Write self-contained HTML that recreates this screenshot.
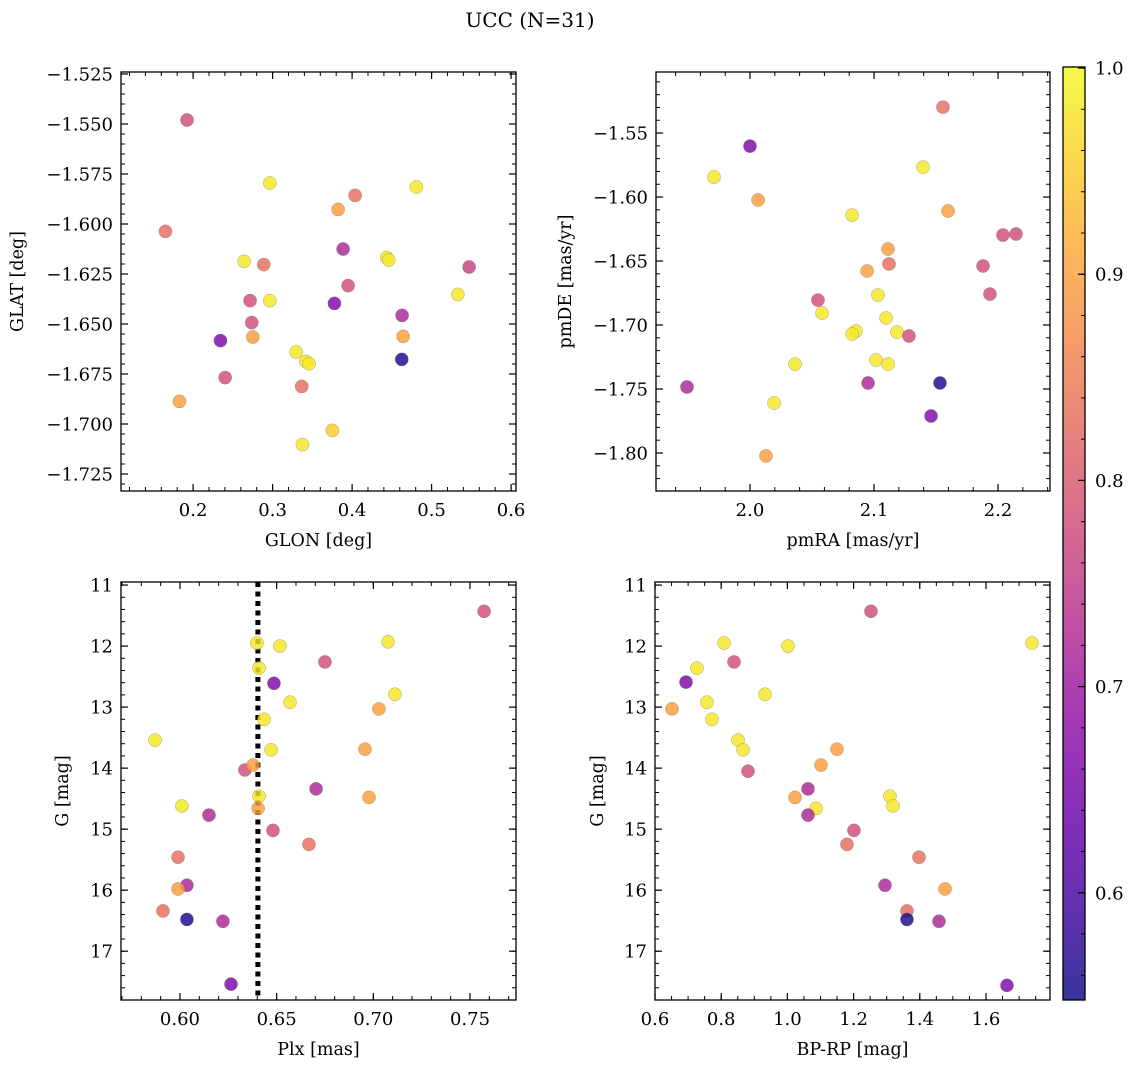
<!DOCTYPE html>
<html><head><meta charset="utf-8">
<style>
html,body{margin:0;padding:0;background:#fff;}
svg{display:block;font-family:"DejaVu Serif","Liberation Serif",serif;}
</style></head>
<body>
<svg id="fig" width="1136" height="1067" viewBox="0 0 1136 1067" xmlns="http://www.w3.org/2000/svg">
<defs>
<linearGradient id="plasma" x1="0" y1="1" x2="0" y2="0">
<stop offset="0" stop-color="#0d0887"/><stop offset="0.1" stop-color="#41049d"/><stop offset="0.2" stop-color="#6a00a8"/><stop offset="0.3" stop-color="#8f0da4"/><stop offset="0.4" stop-color="#b12a90"/><stop offset="0.5" stop-color="#cc4778"/><stop offset="0.6" stop-color="#e16462"/><stop offset="0.7" stop-color="#f2844b"/><stop offset="0.8" stop-color="#fca636"/><stop offset="0.9" stop-color="#fcce25"/><stop offset="1" stop-color="#f0f921"/>
</linearGradient>
</defs>
<text x="530" y="27" font-size="20" text-anchor="middle">UCC (N=31)</text>
</svg>
<script>
// Panel 1: GLON vs GLAT
const p1X=[0.2965,0.4809,0.4038,0.3824,0.1652,0.3887,0.2642,0.2889,0.4436,0.4461,0.5472,0.395,0.533,0.2717,0.2965,0.3778,0.4629,0.2738,0.2751,0.4642,0.2344,0.3296,0.3418,0.3459,0.4625,0.2403,0.3367,0.1828,0.3752,0.3375,0.1924];
const p1Y=[-1.5795,-1.5815,-1.5857,-1.5927,-1.6037,-1.6125,-1.6187,-1.6203,-1.6167,-1.618,-1.6215,-1.6308,-1.6352,-1.6383,-1.6383,-1.6397,-1.6457,-1.6493,-1.6565,-1.6562,-1.6583,-1.664,-1.6687,-1.6698,-1.6677,-1.6768,-1.6812,-1.6887,-1.7032,-1.7103,-1.548];
const p1C=[0.98,0.98,0.83,0.90,0.83,0.72,0.98,0.83,0.98,0.98,0.76,0.78,0.98,0.78,0.98,0.66,0.72,0.78,0.90,0.90,0.66,0.98,0.98,0.98,0.56,0.78,0.83,0.90,0.95,0.98,0.78];
// Panel 2: pmRA vs pmDE
const p2X=[2.1556,2.0,1.971,2.1395,2.0065,2.0823,2.1597,2.1113,2.2145,2.204,2.1121,2.0944,2.1879,2.1032,2.1935,2.0548,2.0581,2.1097,2.0855,2.1185,2.0823,2.1282,2.1016,2.1113,2.0363,1.9492,2.0952,2.1532,2.146,2.0194,2.0129];
const p2Y=[-1.5297,-1.5602,-1.5844,-1.5766,-1.6023,-1.6141,-1.6109,-1.6406,-1.6289,-1.6297,-1.6523,-1.6578,-1.6539,-1.6766,-1.6758,-1.6805,-1.6906,-1.6945,-1.7047,-1.7055,-1.707,-1.7086,-1.7273,-1.7305,-1.7305,-1.7484,-1.7453,-1.7453,-1.7711,-1.7609,-1.8023];
const p2C=[0.83,0.66,0.98,0.98,0.90,0.98,0.90,0.90,0.78,0.78,0.83,0.90,0.78,0.98,0.78,0.78,0.98,0.98,0.98,0.98,0.98,0.78,0.98,0.98,0.98,0.72,0.72,0.56,0.66,0.98,0.90];
// Panel 3: Plx vs G
const p3X=[0.7573,0.6398,0.7076,0.6517,0.6409,0.675,0.6486,0.7112,0.6569,0.7029,0.6435,0.5871,0.6471,0.6957,0.6336,0.6378,0.6409,0.6704,0.6978,0.601,0.6404,0.615,0.6481,0.6667,0.599,0.6036,0.599,0.5912,0.6036,0.6222,0.6264];
const p3Y=[11.43,11.95,11.93,12.0,12.36,12.26,12.61,12.79,12.92,13.03,13.2,13.54,13.70,13.69,14.03,13.95,14.46,14.34,14.48,14.62,14.66,14.77,15.02,15.25,15.46,15.92,15.98,16.34,16.48,16.51,17.54];
const p3C=[0.78,0.98,0.98,0.98,0.98,0.78,0.66,0.98,0.98,0.90,0.98,0.98,0.98,0.90,0.78,0.90,0.98,0.72,0.90,0.98,0.90,0.72,0.78,0.83,0.83,0.72,0.90,0.83,0.56,0.72,0.66];
// Panel 4: BP-RP vs G
const p4X=[1.739,1.2526,0.8085,1.0018,0.7269,0.8387,0.6937,0.9323,0.7571,0.6514,0.7722,0.8508,0.8659,1.1498,0.881,1.1015,1.31,1.0622,1.023,1.319,1.0864,1.0622,1.2012,1.18,1.3976,1.2949,1.4761,1.3613,1.3613,1.458,1.6634];
const p4Y=[11.95,11.43,11.95,12.0,12.36,12.26,12.59,12.79,12.92,13.03,13.2,13.54,13.70,13.69,14.05,13.95,14.46,14.34,14.48,14.62,14.66,14.77,15.02,15.25,15.46,15.92,15.98,16.34,16.48,16.51,17.56];
const p4C=[0.98,0.78,0.98,0.98,0.98,0.78,0.66,0.98,0.98,0.90,0.98,0.98,0.98,0.90,0.78,0.90,0.98,0.72,0.90,0.98,0.98,0.72,0.78,0.83,0.83,0.72,0.90,0.83,0.56,0.72,0.66];
const plxLine=[0.6403];
const cbTicks=[0.6,0.7,0.8,0.9,1.0];

const NS='http://www.w3.org/2000/svg';
const svg=document.getElementById('fig');
const CMIN=0.548,CMAX=1.0005;
const stops=[[13,8,135],[65,4,157],[106,0,168],[143,13,164],[177,42,144],[204,71,120],[225,100,98],[242,132,75],[252,166,54],[252,206,37],[240,249,33]];
function cmap(v){let t=(v-CMIN)/(CMAX-CMIN);t=Math.max(0,Math.min(1,t))*10;const i=Math.min(9,Math.floor(t)),f=t-i;const a=stops[i],b=stops[i+1];return 'rgb('+[0,1,2].map(k=>Math.round(a[k]+(b[k]-a[k])*f)).join(',')+')';}
function mk(tag,attrs,parent){const e=document.createElementNS(NS,tag);for(const k in attrs)e.setAttribute(k,attrs[k]);(parent||svg).appendChild(e);return e;}
function fmt(v,d){const s=Math.abs(v).toFixed(d);return (v<-1e-9?'\u2212':'')+s;}
function range(a,b,s){const r=[];const n=Math.round((b-a)/s);for(let i=0;i<=n;i++)r.push(a+i*s);return r;}

function panel(cfg){
  const g=mk('g',{});
  
  
  const {L,R,T,B,x0,x1,y0,y1}=cfg;
  const sx=v=>L+(v-x0)/(x1-x0)*(R-L);
  const sy=v=>T+(v-y0)/(y1-y0)*(B-T);
  if(cfg.vline){cfg.vline.forEach(v=>{const l=mk('line',{x1:sx(v),x2:sx(v),y1:T,y2:B,stroke:'#000','stroke-width':5,'stroke-dasharray':'5 4.5'},g);});}
  for(let i=0;i<cfg.X.length;i++){
    const c=mk('circle',{cx:sx(cfg.X[i]),cy:sy(cfg.Y[i]),r:6.6,fill:cmap(cfg.C[i]),'fill-opacity':0.82,stroke:'#777','stroke-width':0.5,'stroke-opacity':0.6},g);
    
    
  }
  const fr=mk('rect',{x:L,y:T,width:R-L,height:B-T,fill:'none',stroke:'#000','stroke-width':1.3},g);
  
  
  const inr=(v,a,b)=>v>=Math.min(a,b)-1e-9&&v<=Math.max(a,b)+1e-9;
  cfg.xmin.forEach(v=>{if(!inr(v,x0,x1))return;const x=sx(v);mk('line',{x1:x,x2:x,y1:B,y2:B-4,stroke:'#000','stroke-width':1},g);mk('line',{x1:x,x2:x,y1:T,y2:T+4,stroke:'#000','stroke-width':1},g);});
  cfg.ymin.forEach(v=>{if(!inr(v,y0,y1))return;const y=sy(v);mk('line',{x1:L,x2:L+4,y1:y,y2:y,stroke:'#000','stroke-width':1},g);mk('line',{x1:R,x2:R-4,y1:y,y2:y,stroke:'#000','stroke-width':1},g);});
  cfg.xmaj.forEach(v=>{if(!inr(v,x0,x1))return;const x=sx(v);mk('line',{x1:x,x2:x,y1:B,y2:B-7,stroke:'#000','stroke-width':1.2},g);mk('line',{x1:x,x2:x,y1:T,y2:T+7,stroke:'#000','stroke-width':1.2},g);
    const t=mk('text',{x:x,y:B+25,'font-size':18,'text-anchor':'middle'},g);t.textContent=fmt(v,cfg.xd);});
  cfg.ymaj.forEach(v=>{if(!inr(v,y0,y1))return;const y=sy(v);mk('line',{x1:L,x2:L+7,y1:y,y2:y,stroke:'#000','stroke-width':1.2},g);mk('line',{x1:R,x2:R-7,y1:y,y2:y,stroke:'#000','stroke-width':1.2},g);
    const t=mk('text',{x:L-8,y:y+6.5,'font-size':18,'text-anchor':'end'},g);t.textContent=fmt(v,cfg.yd);});
  const xl=mk('text',{x:(L+R)/2,y:B+55,'font-size':17.5,'text-anchor':'middle'},g);xl.textContent=cfg.xlabel;
  
  
  const yl=mk('text',{x:cfg.ylx,y:(T+B)/2,'font-size':17.5,'text-anchor':'middle',transform:'rotate(-90 '+cfg.ylx+' '+((T+B)/2)+')'},g);yl.textContent=cfg.ylabel;
  
  
}

panel({name:'glon-glat-panel',L:121,R:516,T:72,B:491,x0:0.1093,x1:0.6062,y0:-1.524,y1:-1.7335,X:p1X,Y:p1Y,C:p1C,
  xmaj:range(0.1,0.6,0.1),xmin:range(0.1,0.62,0.02),xd:1,ymaj:range(-1.725,-1.525,0.025),ymin:range(-1.74,-1.52,0.005),yd:3,xlabel:'GLON [deg]',ylabel:'GLAT [deg]',ylx:23});
panel({name:'pm-panel',L:656,R:1050,T:72,B:491,x0:1.9242,x1:2.2419,y0:-1.5023,y1:-1.8297,X:p2X,Y:p2Y,C:p2C,
  xmaj:range(1.9,2.3,0.1),xmin:range(1.9,2.3,0.02),xd:1,ymaj:range(-1.8,-1.55,0.05),ymin:range(-1.83,-1.5,0.01),yd:2,xlabel:'pmRA [mas/yr]',ylabel:'pmDE [mas/yr]',ylx:571});
panel({name:'plx-g-panel',L:121,R:516,T:582,B:1000,x0:0.5695,x1:0.7738,y0:10.95,y1:17.80,X:p3X,Y:p3Y,C:p3C,vline:plxLine,
  xmaj:range(0.6,0.75,0.05),xmin:range(0.57,0.77,0.01),xd:2,ymaj:range(11,17,1),ymin:range(11,17.8,0.2),yd:0,xlabel:'Plx [mas]',ylabel:'G [mag]',ylx:68});
panel({name:'cmd-panel',L:655,R:1050,T:582,B:1000,x0:0.6,x1:1.7934,y0:10.95,y1:17.80,X:p4X,Y:p4Y,C:p4C,
  xmaj:range(0.6,1.6,0.2),xmin:range(0.6,1.8,0.05),xd:1,ymaj:range(11,17,1),ymin:range(11,17.8,0.2),yd:0,xlabel:'BP-RP [mag]',ylabel:'G [mag]',ylx:603});

const cg=mk('g',{});


const CL=1063,CR=1085,CT=67,CB=1000;
const cy=v=>CB-(v-CMIN)/(CMAX-CMIN)*(CB-CT);
mk('rect',{x:CL,y:CT,width:CR-CL,height:CB-CT,fill:'url(#plasma)','fill-opacity':0.82},cg);
const cf=mk('rect',{x:CL,y:CT,width:CR-CL,height:CB-CT,fill:'none',stroke:'#000','stroke-width':1.3},cg);


range(0.56,1.0,0.02).forEach(v=>{const y=cy(v);mk('line',{x1:CR,x2:CR-4,y1:y,y2:y,stroke:'#000','stroke-width':1},cg);});
cbTicks.forEach(v=>{const y=cy(v);mk('line',{x1:CR,x2:CR-7,y1:y,y2:y,stroke:'#000','stroke-width':1.2},cg);
  const t=mk('text',{x:CR+10,y:y+6.5,'font-size':18},cg);t.textContent=v.toFixed(1);
  
  });
</script>
</body></html>
